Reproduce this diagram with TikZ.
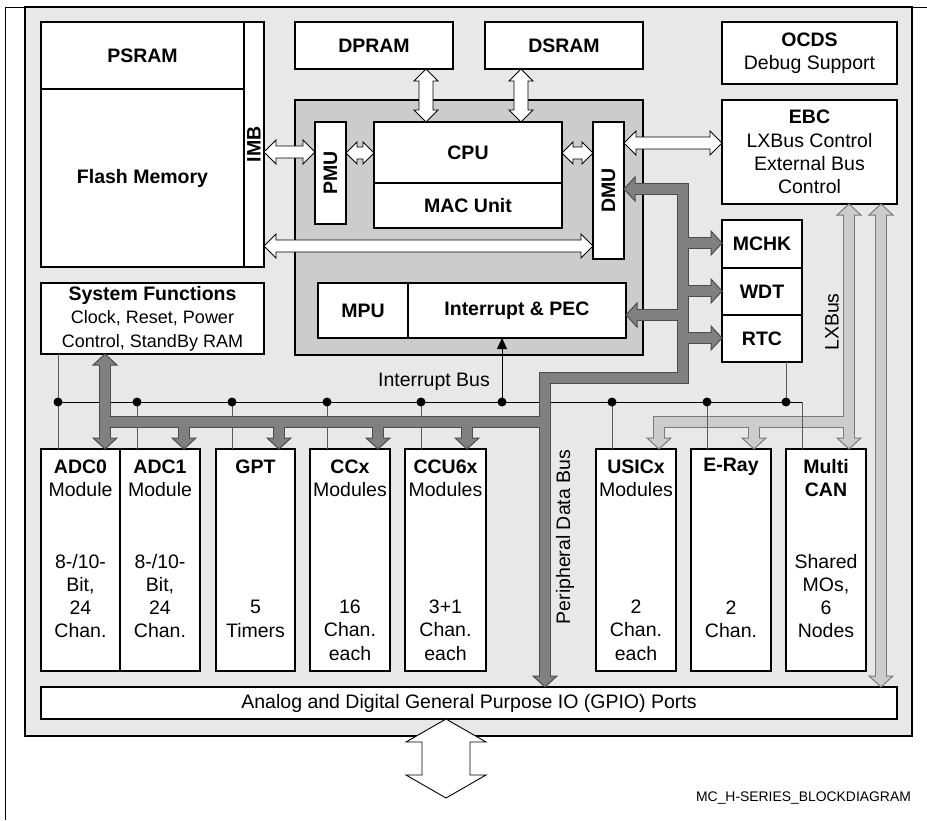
\documentclass[tikz,border=0pt]{standalone}
\usepackage{fontspec}
\setmainfont{Liberation Sans}
\usetikzlibrary{calc,arrows.meta}
\newcommand\myfs{\fontsize{19.5}{23.3}\selectfont}
\newcommand\mysmfs{\fontsize{18}{22.5}\selectfont}
\definecolor{bgray}{HTML}{E8E8E8}
\definecolor{cgray}{HTML}{CCCCCC}
\definecolor{pbfill}{HTML}{808080}
\definecolor{pbedge}{HTML}{4D4D4D}
\definecolor{lxfill}{HTML}{CCCCCC}
\definecolor{lxedge}{HTML}{7A7A7A}
\definecolor{tapgray}{HTML}{5A5A5A}
% double block arrow: #1 style, #2 tip A, #3 tip B, #4 half shaft, #5 half head, #6 head length
\newcommand\dblarrow[6]{%
  \path ($(#2)!#6!(#3)$) coordinate (dAA) ($(#3)!#6!(#2)$) coordinate (dBB);
  \draw[#1] (#2) -- ($(dAA)!#5!90:(#3)$) -- ($(dAA)!#4!90:(#3)$) -- ($(dBB)!#4!-90:(#2)$)
    -- ($(dBB)!#5!-90:(#2)$) -- (#3) -- ($(dBB)!#5!90:(#2)$) -- ($(dBB)!#4!90:(#2)$)
    -- ($(dAA)!#4!-90:(#3)$) -- ($(dAA)!#5!-90:(#3)$) -- cycle;}
% bus arrow head: #1 style, #2 tip, #3 point it comes from
\newcommand\bushead[3]{%
  \path ($(#2)!11pt!(#3)$) coordinate (hbase);
  \draw[#1] (#2) -- ($(hbase)!12pt!90:(#3)$) -- ($(hbase)!12pt!-90:(#3)$) -- cycle;}
\begin{document}
\begin{tikzpicture}[x=1pt,y=-1pt,
  box/.style={draw=black, line width=2pt, fill=white, inner sep=0pt, outer sep=0pt, anchor=north west, align=center, font=\myfs},
  txt/.style={inner sep=0pt, align=center, font=\myfs},
  warrow/.style={draw=black, fill=white, line width=0.9pt, line join=miter},
  pbout/.style={draw=pbedge, line width=12pt, line join=miter},
  pbin/.style={draw=pbfill, line width=10pt, line join=miter},
  pbhead/.style={draw=pbedge, fill=pbfill, line width=1pt, line join=miter},
  lxout/.style={draw=lxedge, line width=12pt, line join=miter},
  lxin/.style={draw=lxfill, line width=10pt, line join=miter},
  lxhead/.style={draw=lxedge, fill=lxfill, line width=1pt, line join=miter},
  tap/.style={draw=tapgray, line width=1pt},
  dot/.style={fill=black}]
\useasboundingbox (0,0) rectangle (927,820);
\fill[white] (0,0) rectangle (927,820);
% page frame
\coordinate (fr1) at (5,820); \coordinate (fr2) at (5,7); \coordinate (fr3) at (927,7);
\draw[line width=1pt] (fr1) -- (fr2) -- (fr3);
% chip
\node[box, fill=bgray, minimum width=887pt, minimum height=729pt] (chip) at (25,7) {};
\node[box, fill=cgray, minimum width=348pt, minimum height=255pt] (cpusys) at (295,100) {};
% memories
\node[box, minimum width=203pt, minimum height=67pt] (psram) at (41,22) {\bfseries PSRAM};
\node[box, minimum width=203pt, minimum height=178pt] (flash) at (41,89) {\bfseries Flash Memory};
\node[box, minimum width=20pt, minimum height=245pt] (imb) at (244,22) {};
\node[txt, rotate=90, font=\myfs\bfseries] (imbt) at (imb.center) {IMB};
\node[box, minimum width=158pt, minimum height=47pt] (dpram) at (295,22) {\bfseries DPRAM};
\node[box, minimum width=158pt, minimum height=47pt] (dsram) at (485,22) {\bfseries DSRAM};
\node[box, minimum width=175pt, minimum height=62pt] (ocds) at (722,22) {\textbf{OCDS}\\Debug Support};
\node[box, minimum width=175pt, minimum height=104pt] (ebc) at (722,100) {\textbf{EBC}\\LXBus Control\\External Bus\\Control};
% CPU subsystem
\node[box, minimum width=31pt, minimum height=102pt] (pmu) at (315,122) {};
\node[txt, rotate=90, font=\myfs\bfseries] (pmut) at (pmu.center) {PMU};
\node[box, minimum width=188pt, minimum height=61pt] (cpu) at (374,122) {\bfseries CPU};
\node[box, minimum width=188pt, minimum height=45pt] (mac) at (374,183) {\bfseries MAC Unit};
\node[box, minimum width=31pt, minimum height=137pt] (dmu) at (593,122) {};
\node[txt, rotate=90, font=\myfs\bfseries] (dmut) at (dmu.center) {DMU};
\node[box, minimum width=90pt, minimum height=55pt] (mpu) at (318,283) {\bfseries MPU};
\node[box, minimum width=218pt, minimum height=55pt] (intpec) at (408,283) {\bfseries Interrupt \& PEC};
% MCHK/WDT/RTC
\node[box, minimum width=80pt, minimum height=48pt] (mchk) at (722,220) {\bfseries MCHK};
\node[box, minimum width=80pt, minimum height=47pt] (wdt) at (722,268) {\bfseries WDT};
\node[box, minimum width=80pt, minimum height=47pt] (rtc) at (722,315) {\bfseries RTC};
% system functions
\node[box, minimum width=223pt, minimum height=71pt] (sysf) at (41,283) {\textbf{System Functions}\\{\mysmfs Clock, Reset, Power}\\{\mysmfs Control, StandBy RAM}};
% modules
\node[box, minimum width=79pt, minimum height=222pt] (adc0) at (41,449) {};
\node[box, minimum width=80pt, minimum height=222pt] (adc1) at (120,449) {};
\node[box, minimum width=79pt, minimum height=222pt] (gpt) at (216,449) {};
\node[box, minimum width=80pt, minimum height=222pt] (ccx) at (310,449) {};
\node[box, minimum width=81pt, minimum height=222pt] (ccu6x) at (405,449) {};
\node[box, minimum width=80pt, minimum height=222pt] (usicx) at (596,449) {};
\node[box, minimum width=80pt, minimum height=222pt] (eray) at (691,449) {};
\node[box, minimum width=80pt, minimum height=222pt] (mcan) at (786,449) {};
\node[txt] (adc0a) at ($(adc0.north)+(0,29)$) {\textbf{ADC0}\\Module};
\node[txt] (adc0b) at ($(adc0.north)+(0,147)$) {8-/10-\\Bit,\\24\\Chan.};
\node[txt] (adc1a) at ($(adc1.north)+(0,29)$) {\textbf{ADC1}\\Module};
\node[txt] (adc1b) at ($(adc1.north)+(0,147)$) {8-/10-\\Bit,\\24\\Chan.};
\node[txt] (gpta) at ($(gpt.north)+(0,18)$) {\textbf{GPT}};
\node[txt] (gptb) at ($(gpt.north)+(0,170)$) {5\\Timers};
\node[txt] (ccxa) at ($(ccx.north)+(0,29)$) {\textbf{CCx}\\Modules};
\node[txt] (ccxb) at ($(ccx.north)+(0,181)$) {16\\Chan.\\each};
\node[txt] (ccua) at ($(ccu6x.north)+(0,29)$) {\textbf{CCU6x}\\Modules};
\node[txt] (ccub) at ($(ccu6x.north)+(0,181)$) {3+1\\Chan.\\each};
\node[txt] (usica) at ($(usicx.north)+(0,29)$) {\textbf{USICx}\\Modules};
\node[txt] (usicb) at ($(usicx.north)+(0,181)$) {2\\Chan.\\each};
\node[txt] (eraya) at ($(eray.north)+(0,18)$) {\textbf{E-Ray}};
\node[txt] (erayb) at ($(eray.north)+(0,170)$) {2\\Chan.};
\node[txt] (mcana) at ($(mcan.north)+(0,29)$) {\textbf{Multi}\\\textbf{CAN}};
\node[txt] (mcanb) at ($(mcan.north)+(0,147)$) {Shared\\MOs,\\6\\Nodes};
% GPIO
\node[box, minimum width=856pt, minimum height=32pt] (gpio) at (41,687) {Analog and Digital General Purpose IO (GPIO) Ports};
% white block arrows
\coordinate (w1a) at (imb.east |- 0,152); \coordinate (w1b) at (pmu.west |- 0,152);
\coordinate (w2a) at (pmu.east |- 0,153); \coordinate (w2b) at (cpu.west |- 0,153);
\coordinate (w3a) at (cpu.east |- 0,153); \coordinate (w3b) at (dmu.west |- 0,153);
\coordinate (w4a) at (dpram.south -| 426,0); \coordinate (w4b) at (cpu.north -| 426,0);
\coordinate (w5a) at (dsram.south -| 521,0); \coordinate (w5b) at (cpu.north -| 521,0);
\coordinate (w6a) at (imb.east |- 0,246); \coordinate (w6b) at (dmu.west |- 0,246);
\coordinate (w7a) at (dmu.east |- 0,143); \coordinate (w7b) at (ebc.west |- 0,143);
\coordinate (w8a) at (gpio.south -| 446,0); \coordinate (ext) at (446,798);
\dblarrow{warrow}{w1a}{w1b}{6pt}{12pt}{12pt}
\dblarrow{warrow}{w2a}{w2b}{6pt}{11pt}{11pt}
\dblarrow{warrow}{w3a}{w3b}{6pt}{11pt}{11pt}
\dblarrow{warrow}{w4a}{w4b}{7pt}{12pt}{12pt}
\dblarrow{warrow}{w5a}{w5b}{7pt}{12pt}{12pt}
\dblarrow{warrow}{w6a}{w6b}{6pt}{12pt}{12pt}
\dblarrow{warrow}{w7a}{w7b}{6pt}{12pt}{12pt}
\dblarrow{warrow}{w8a}{ext}{24pt}{40pt}{23pt}
% LXBus
\coordinate (lxe1) at (ebc.south -| 849,0); \coordinate (lxe2) at (ebc.south -| 881,0);
\coordinate (lxmc) at (mcan.north -| 849,0); \coordinate (lxus) at (usicx.north -| 659,0);
\coordinate (lxer) at (eray.north -| 754,0); \coordinate (lxgp) at (gpio.north -| 881,0);
\coordinate (lj1) at (849,422); \coordinate (lj2) at (659,422); \coordinate (lj3) at (754,422);
\def\lxshafts{($(lxe1)!9pt!(lxmc)$) -- ($(lxmc)!9pt!(lxe1)$)
  (lj1) -- (lj2) -- ($(lxus)!9pt!(lj2)$)
  (lj3) -- ($(lxer)!9pt!(lj3)$)
  ($(lxe2)!9pt!(lxgp)$) -- ($(lxgp)!9pt!(lxe2)$)}
\draw[lxout] \lxshafts;
\bushead{lxhead}{lxe1}{lxmc}
\bushead{lxhead}{lxmc}{lxe1}
\bushead{lxhead}{lxus}{lj2}
\bushead{lxhead}{lxer}{lj3}
\bushead{lxhead}{lxe2}{lxgp}
\bushead{lxhead}{lxgp}{lxe2}
\draw[lxin] \lxshafts;
\node[txt, rotate=90] (lxt) at (832,322) {LXBus};
% interrupt bus
\coordinate (ib0) at (58,402); \coordinate (ib1) at (802,402); \coordinate (ibp) at (502,402);
\draw[line width=1pt] (ib0) -- (ib1);
\draw[tap] (ib1) -- (mcan.north -| ib1);
\draw[tap] (sysf.south -| ib0) -- (adc0.north -| ib0);
\foreach \xx/\bb in {137/adc1,232/gpt,327/ccx,421/ccu6x,612/usicx,707/eray}{
  \draw[tap] (\xx,402) -- (\bb.north -| \xx,0);
  \fill[dot] (\xx,402) circle (4.5pt);}
\draw[tap] (786,402) -- (rtc.south -| 786,0);
\fill[dot] (ib0) circle (4.5pt);
\fill[dot] (786,402) circle (4.5pt);
\fill[dot] (ibp) circle (4.5pt);
\draw[line width=1pt, -{Triangle[width=10pt,length=11pt]}] (ibp) -- (intpec.south -| ibp);
\node[txt] (ibt) at (434,382) {Interrupt Bus};
% peripheral data bus
\coordinate (pdmu) at (dmu.east |- 0,189); \coordinate (ppec) at (intpec.east |- 0,315);
\coordinate (pmchk) at (mchk.west |- 0,243); \coordinate (pwdt) at (wdt.west |- 0,291);
\coordinate (prtc) at (rtc.west |- 0,338);
\coordinate (tk1) at (683,189); \coordinate (tk2) at (683,378);
\coordinate (tk3) at (545,378); \coordinate (tk4) at (545,422); \coordinate (tk5) at (105,422);
\coordinate (jpec) at (683,315); \coordinate (jmchk) at (683,243);
\coordinate (jwdt) at (683,291); \coordinate (jrtc) at (683,338);
\coordinate (pgpio) at (gpio.north -| 545,0);
\coordinate (psysf) at (sysf.south -| 105,0); \coordinate (padc0) at (adc0.north -| 105,0);
\coordinate (padc1) at (adc1.north -| 184,0); \coordinate (jadc1) at (184,422);
\coordinate (pgpt) at (gpt.north -| 279,0); \coordinate (jgpt) at (279,422);
\coordinate (pccx) at (ccx.north -| 378,0); \coordinate (jccx) at (378,422);
\coordinate (pccu) at (ccu6x.north -| 467,0); \coordinate (jccu) at (467,422);
\def\pbshafts{($(pdmu)!9pt!(tk1)$) -- (tk1) -- (tk2) -- (tk3) -- ($(pgpio)!9pt!(tk3)$)
  (jpec) -- ($(ppec)!9pt!(jpec)$)
  (jmchk) -- ($(pmchk)!9pt!(jmchk)$)
  (jwdt) -- ($(pwdt)!9pt!(jwdt)$)
  (jrtc) -- ($(prtc)!9pt!(jrtc)$)
  (tk4) -- (tk5)
  ($(psysf)!9pt!(padc0)$) -- ($(padc0)!9pt!(psysf)$)
  (jadc1) -- ($(padc1)!9pt!(jadc1)$)
  (jgpt) -- ($(pgpt)!9pt!(jgpt)$)
  (jccx) -- ($(pccx)!9pt!(jccx)$)
  (jccu) -- ($(pccu)!9pt!(jccu)$)}
\draw[pbout] \pbshafts;
\bushead{pbhead}{pdmu}{tk1}
\bushead{pbhead}{ppec}{jpec}
\bushead{pbhead}{pmchk}{jmchk}
\bushead{pbhead}{pwdt}{jwdt}
\bushead{pbhead}{prtc}{jrtc}
\bushead{pbhead}{pgpio}{tk3}
\bushead{pbhead}{psysf}{padc0}
\bushead{pbhead}{padc0}{psysf}
\bushead{pbhead}{padc1}{jadc1}
\bushead{pbhead}{pgpt}{jgpt}
\bushead{pbhead}{pccx}{jccx}
\bushead{pbhead}{pccu}{jccu}
\draw[pbin] \pbshafts;
\node[txt, rotate=90] (pdbt) at (565,537) {Peripheral Data Bus};
% tag
\node[inner sep=0pt, font=\fontsize{13.9}{16}\selectfont] (tag) at (803.5,798) {MC\_H-SERIES\_BLOCKDIAGRAM};
\end{tikzpicture}
\end{document}
